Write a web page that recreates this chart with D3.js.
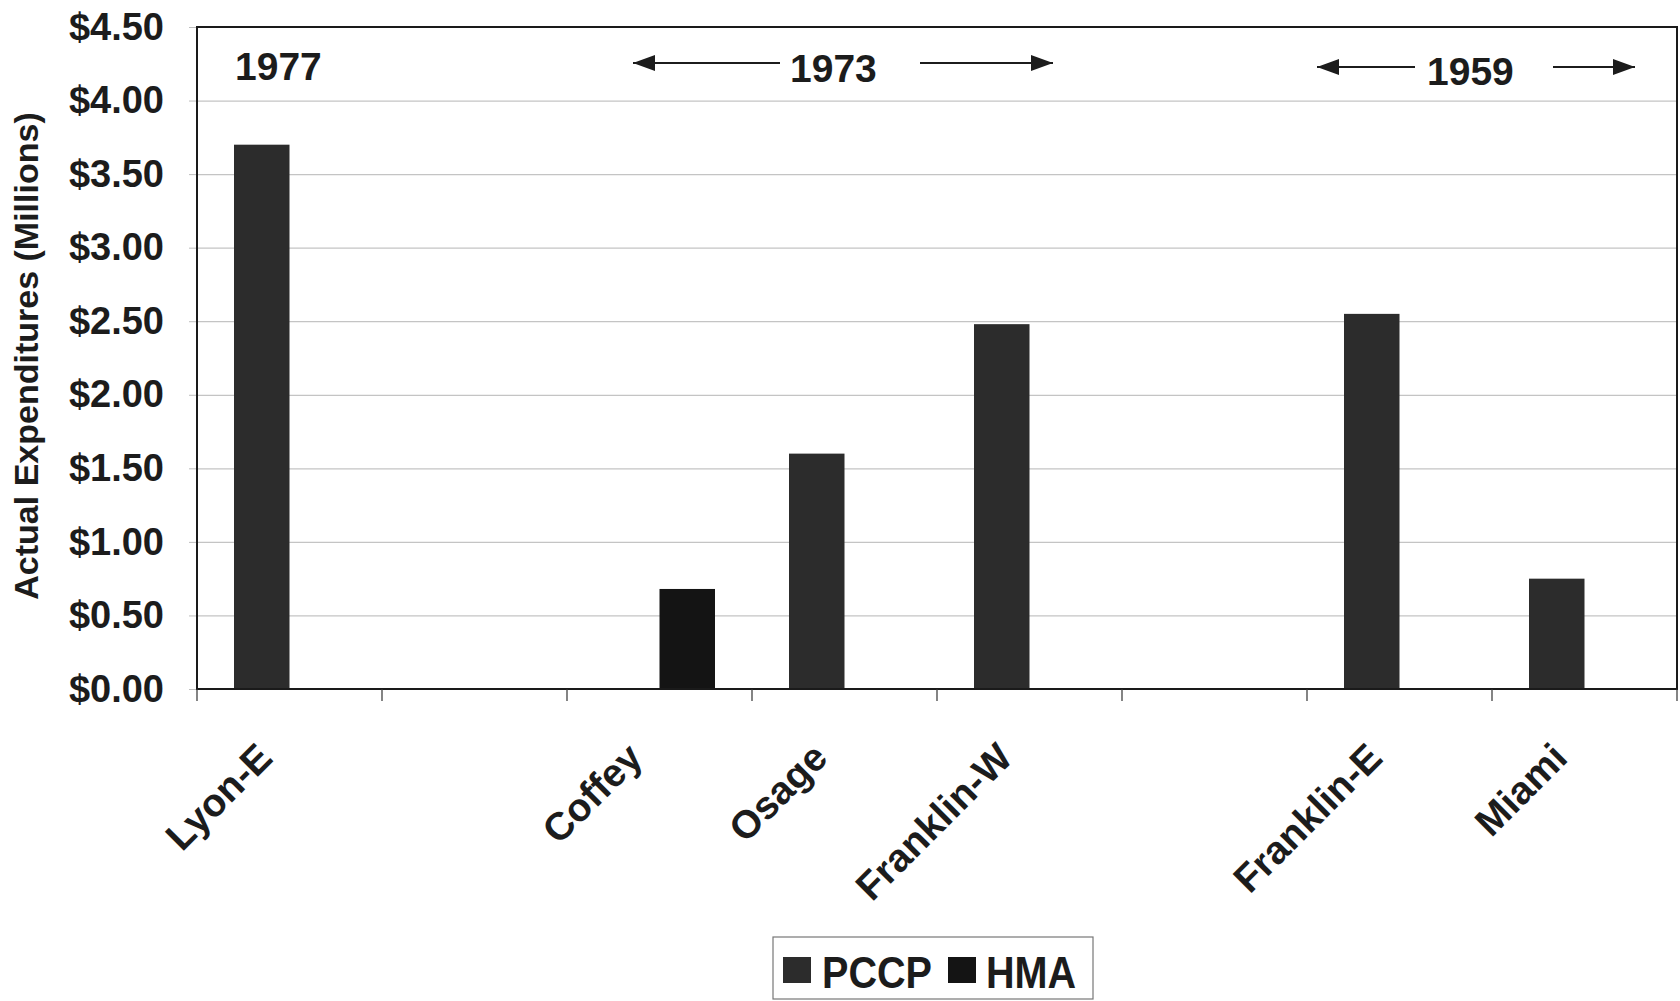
<!DOCTYPE html>
<html>
<head>
<meta charset="utf-8">
<script src="https://cdn.jsdelivr.net/npm/d3@7"></script>
<style>
  body { margin: 0; background: #fff; }
  svg { display: block; }
  text { font-family: "Liberation Sans", Arial, sans-serif; font-weight: bold; fill: #1c1c1c; }
</style>
</head>
<body>
<svg id="chart" width="1680" height="1001"></svg>
<script>
// Site categories (empty strings are spacer slots between construction years)
const categories = ["Lyon-E", "", "Coffey", "Osage", "Franklin-W", "", "Franklin-E", "Miami"];
const seriesNames = ["PCCP", "HMA"];
// Actual expenditures, millions of dollars (null = no bar)
const pccpValues = [3.70, null, null, 1.60, 2.48, null, 2.55, 0.75];
const hmaValues  = [null, null, 0.68, null, null, null, null, null];
const yTickValues = [0, 0.5, 1.0, 1.5, 2.0, 2.5, 3.0, 3.5, 4.0, 4.5];
const yearLabels = ["1977", "1973", "1959"];

const colors = { PCCP: "#2c2c2c", HMA: "#141414" };

const svg = d3.select("#chart");
const plot = { left: 197, right: 1677, top: 27, bottom: 689 };

const x0 = d3.scaleBand()
  .domain(d3.range(categories.length))
  .range([plot.left, plot.right])
  .paddingInner(0).paddingOuter(0);

const bw = x0.bandwidth();
const x1 = d3.scaleBand()
  .domain(seriesNames)
  .range([bw * 0.2, bw * 0.8])
  .padding(0);

const y = d3.scaleLinear().domain([0, 4.5]).range([plot.bottom, plot.top]);

// Horizontal gridlines
svg.append("g")
  .attr("transform", `translate(${plot.left},0)`)
  .call(d3.axisLeft(y).tickValues(yTickValues.filter(v => v > 0 && v < 4.5))
    .tickSize(-(plot.right - plot.left)).tickFormat(""))
  .call(g => g.select(".domain").remove())
  .call(g => g.selectAll("line").attr("stroke", "#c4c4c4").attr("stroke-width", 1.2));

// Y axis labels with short outside ticks
svg.append("g")
  .attr("transform", `translate(${plot.left},0)`)
  .call(d3.axisLeft(y).tickValues(yTickValues).tickSize(8).tickPadding(25)
    .tickFormat(d => "$" + d.toFixed(2)))
  .call(g => g.select(".domain").remove())
  .call(g => g.selectAll("line").attr("stroke", "#bdbdbd"))
  .call(g => g.selectAll("text")
    .attr("font-size", 38).attr("font-family", "'Liberation Sans', Arial, sans-serif")
    .attr("font-weight", "bold").attr("fill", "#1c1c1c"));

// Bars
const seriesData = [
  { name: "PCCP", values: pccpValues },
  { name: "HMA", values: hmaValues }
];
seriesData.forEach(s => {
  svg.append("g").selectAll("rect")
    .data(s.values.map((v, i) => ({ i, v })).filter(d => d.v != null))
    .join("rect")
    .attr("x", d => x0(d.i) + x1(s.name))
    .attr("y", d => y(d.v))
    .attr("width", x1.bandwidth())
    .attr("height", d => y(0) - y(d.v))
    .attr("fill", colors[s.name]);
});

// Plot frame
svg.append("rect")
  .attr("x", plot.left).attr("y", plot.top)
  .attr("width", plot.right - plot.left).attr("height", plot.bottom - plot.top)
  .attr("fill", "none").attr("stroke", "#1a1a1a").attr("stroke-width", 2);

// Category boundary ticks below the axis
svg.append("g").selectAll("line")
  .data(d3.range(categories.length + 1))
  .join("line")
  .attr("x1", i => plot.left + i * bw).attr("x2", i => plot.left + i * bw)
  .attr("y1", plot.bottom).attr("y2", plot.bottom + 12)
  .attr("stroke", "#333").attr("stroke-width", 1.2);

// Rotated category labels
svg.append("g").selectAll("text")
  .data(categories.map((c, i) => ({ c, i })).filter(d => d.c))
  .join("text")
  .attr("transform", d => `translate(${x0(d.i) + bw / 2 - 15},${plot.bottom + 71}) rotate(-45)`)
  .attr("text-anchor", "end")
  .attr("font-size", 39)
  .text(d => d.c);

// Y axis title
svg.append("text")
  .attr("transform", `translate(38,356) rotate(-90)`)
  .attr("text-anchor", "middle")
  .attr("font-size", 34)
  .text("Actual Expenditures (Millions)");

// Construction year annotations with arrows
const defs = svg.append("defs");
defs.append("marker")
  .attr("id", "arrowhead")
  .attr("viewBox", "0 0 22 16").attr("refX", 22).attr("refY", 8)
  .attr("markerWidth", 22).attr("markerHeight", 16)
  .attr("markerUnits", "userSpaceOnUse")
  .attr("orient", "auto")
  .append("path").attr("d", "M0,0 L22,8 L0,16 Z").attr("fill", "#1c1c1c");

const yearLayout = [
  { label: yearLabels[0], x: 235, y: 80, arrows: [] },
  { label: yearLabels[1], x: 790, y: 82, arrows: [[780, 633, 63], [920, 1053, 63]] },
  { label: yearLabels[2], x: 1427, y: 85, arrows: [[1415, 1317, 67], [1553, 1635, 67]] }
];
yearLayout.forEach(d => {
  svg.append("text").attr("x", d.x).attr("y", d.y).attr("font-size", 39).text(d.label);
  d.arrows.forEach(([xa, xb, ya]) => {
    svg.append("line")
      .attr("x1", xa).attr("x2", xb).attr("y1", ya).attr("y2", ya)
      .attr("stroke", "#1c1c1c").attr("stroke-width", 2)
      .attr("marker-end", "url(#arrowhead)");
  });
});

// Legend
const legend = svg.append("g");
legend.append("rect")
  .attr("x", 773).attr("y", 937).attr("width", 320).attr("height", 62)
  .attr("fill", "#fff").attr("stroke", "#777").attr("stroke-width", 1.2);
const legendItems = [
  { name: seriesNames[0], sx: 783, tx: 822 },
  { name: seriesNames[1], sx: 948, tx: 986 }
];
legendItems.forEach(it => {
  legend.append("rect").attr("x", it.sx).attr("y", 957).attr("width", 28).attr("height", 26)
    .attr("fill", colors[it.name]);
  legend.append("text")
    .attr("transform", `translate(${it.tx},988) scale(0.88,1)`)
    .attr("font-size", 45).text(it.name);
});
</script>
</body>
</html>
